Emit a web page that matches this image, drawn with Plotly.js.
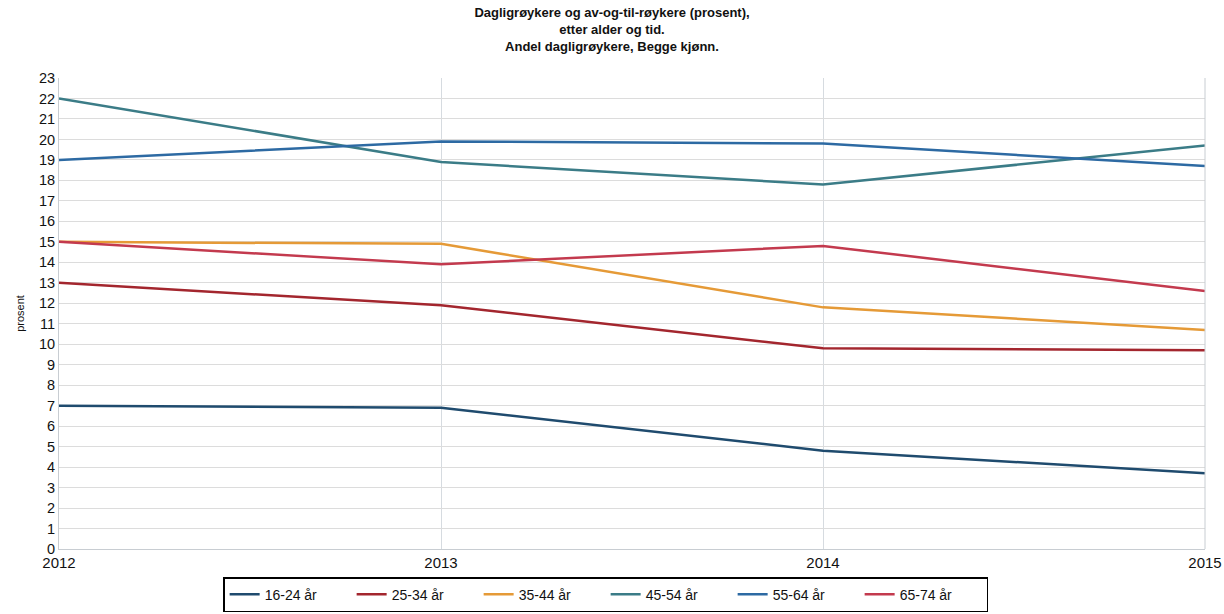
<!DOCTYPE html>
<html>
<head>
<meta charset="utf-8">
<script src="https://cdn.plot.ly/plotly-3.0.1.min.js"></script>
<style>html,body{margin:0;padding:0;background:#fff;}#chart{width:1224px;height:614px;}</style>
</head>
<body>
<div id="chart"></div>
<script>
const years = ["2012", "2013", "2014", "2015"];
const seriesNames = ["16-24 år", "25-34 år", "35-44 år", "45-54 år", "55-64 år", "65-74 år"];
const v1624 = [7.0, 6.9, 4.8, 3.7];
const v2534 = [13.0, 11.9, 9.8, 9.7];
const v3544 = [15.0, 14.9, 11.8, 10.7];
const v4554 = [22.0, 18.9, 17.8, 19.7];
const v5564 = [19.0, 19.9, 19.8, 18.7];
const v6574 = [15.0, 13.9, 14.8, 12.6];
const colors = ["#1f4b6e", "#a3262e", "#e59a37", "#3b7c87", "#2d6aa3", "#c33a4e"];
const yTicks = [0,1,2,3,4,5,6,7,8,9,10,11,12,13,14,15,16,17,18,19,20,21,22,23];

const allVals = [v1624, v2534, v3544, v4554, v5564, v6574];
const traces = allVals.map((vals, i) => ({
  x: years.map(Number),
  y: vals,
  name: seriesNames[i],
  type: "scatter",
  mode: "lines",
  line: {color: colors[i], width: 2.5}
}));

const layout = {
  width: 1224, height: 614,
  margin: {l: 59, r: 19, t: 78, b: 65, autoexpand: false},
  paper_bgcolor: "#fff", plot_bgcolor: "#fff",
  font: {family: "Liberation Sans, Arial, sans-serif", color: "#111"},
  title: {
    text: "<b>Dagligrøykere og av-og-til-røykere (prosent),<br>etter alder og tid.<br>Andel dagligrøykere, Begge kjønn.</b>",
    x: 0.5, xanchor: "center", y: 0.972, yanchor: "top",
    font: {size: 13, color: "#111"}
  },
  xaxis: {
    range: [2012, 2015],
    tickvals: years.map(Number), ticktext: years,
    showgrid: true, gridcolor: "#d6dbe0", gridwidth: 1,
    zeroline: false, showline: true, linecolor: "#c8cdd2", mirror: false,
    ticks: "", tickfont: {size: 15, color: "#111"},
    ticklabelstandoff: 0
  },
  yaxis: {
    range: [0, 23],
    tickvals: yTicks, ticktext: yTicks.map(String),
    showgrid: true, gridcolor: "#dcdcdc", gridwidth: 1,
    zeroline: false, showline: true, linecolor: "#c8cdd2",
    ticks: "", tickfont: {size: 14.5, color: "#111"},
    title: {text: "prosent", font: {size: 11, color: "#111"}, standoff: 12}
  },
  shapes: [{type: "line", xref: "paper", yref: "paper", x0: 1, x1: 1, y0: 0, y1: 1, line: {color: "#c8cdd2", width: 1}}],
  showlegend: true,
  legend: {
    orientation: "h", x: 0.477, xanchor: "center",
    yref: "container", y: 0.003, yanchor: "bottom",
    bordercolor: "#000", borderwidth: 1.5, bgcolor: "#fff",
    font: {size: 14, color: "#111"}, entrywidth: 82, tracegroupgap: 0
  }
};

Plotly.newPlot("chart", traces, layout, {displayModeBar: false, staticPlot: true});
</script>
</body>
</html>
